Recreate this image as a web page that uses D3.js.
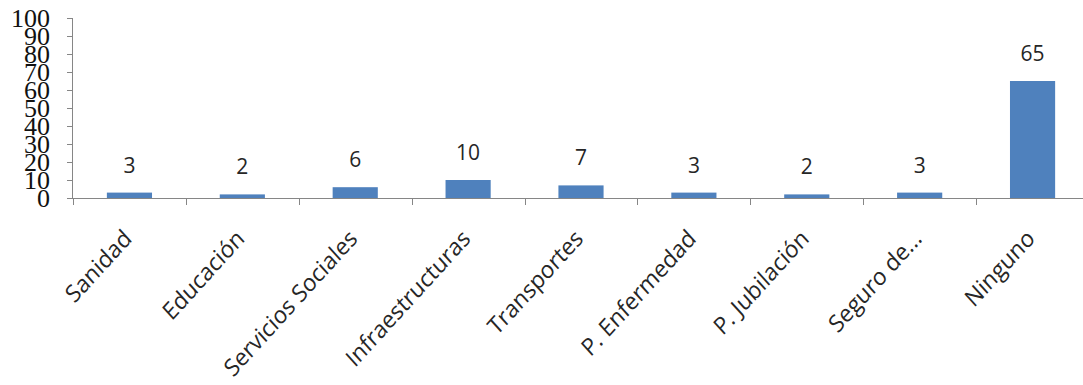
<!DOCTYPE html>
<html>
<head>
<meta charset="utf-8">
<script src="https://cdn.jsdelivr.net/npm/d3@7"></script>
<style>
  html, body { margin: 0; padding: 0; background: #fff; }
  svg { display: block; }
</style>
</head>
<body>
<svg id="chart" width="1083" height="385"></svg>
<script>
// Categories and percentage values
const categories = ["Sanidad", "Educación", "Servicios Sociales", "Infraestructuras",
  "Transportes", "P. Enfermedad", "P. Jubilación", "Seguro de...", "Ninguno"];
const values = [3, 2, 6, 10, 7, 3, 2, 3, 65];
const yTicks = [0, 10, 20, 30, 40, 50, 60, 70, 80, 90, 100];

const svg = d3.select("#chart");
const axisColor = "#868686";

const x = d3.scaleBand().domain(categories).range([73, 1089]).paddingInner(0).paddingOuter(0);
const y = d3.scaleLinear().domain([0, 100]).range([198, 18]);
const barW = x.bandwidth() * 0.4;

// Y axis (tick labels are large and crowd each other)
const yAxis = d3.axisLeft(y).tickValues(yTicks).tickSize(6).tickPadding(0);
const gy = svg.append("g").attr("transform", "translate(73,0)").call(yAxis);
gy.select(".domain").attr("stroke", axisColor).attr("d", `M-0.5,${y(100)}V${y(0)}`);
gy.selectAll(".tick line").attr("stroke", axisColor);
gy.selectAll(".tick text")
  .attr("x", -23)
  .attr("dy", "0.34em")
  .attr("fill", "#111")
  .style("font-family", "'Liberation Serif', 'DejaVu Serif', serif")
  .style("font-size", "26px");

// X axis: boundary ticks between categories
const gx = svg.append("g");
gx.append("line")
  .attr("x1", 67).attr("x2", 1083)
  .attr("y1", y(0) + 0.5).attr("y2", y(0) + 0.5)
  .attr("stroke", axisColor);
const boundaries = categories.map(c => x(c)).concat([x(categories[categories.length - 1]) + x.bandwidth()]);
gx.selectAll("line.b").data(boundaries).enter().append("line")
  .attr("class", "b")
  .attr("x1", d => Math.round(d) + 0.5).attr("x2", d => Math.round(d) + 0.5)
  .attr("y1", y(0)).attr("y2", y(0) + 7)
  .attr("stroke", axisColor);

// Bars
svg.append("g").selectAll("rect").data(values).enter().append("rect")
  .attr("x", (d, i) => x(categories[i]) + (x.bandwidth() - barW) / 2)
  .attr("width", barW)
  .attr("y", d => y(d))
  .attr("height", d => y(0) - y(d))
  .attr("fill", "#4F81BD");

// Value labels
svg.append("g").selectAll("text").data(values).enter().append("text")
  .attr("x", (d, i) => x(categories[i]) + x.bandwidth() / 2)
  .attr("y", d => y(d) - 20)
  .attr("text-anchor", "middle")
  .attr("fill", "#262626")
  .style("font-family", "'Open Sans', sans-serif")
  .style("font-size", "21px")
  .text(d => d);

// Category labels, rotated and slightly stretched vertically
svg.append("g").selectAll("text").data(categories).enter().append("text")
  .attr("transform", d => `translate(${x(d) + x.bandwidth() / 2 - 2},${234}) scale(1,1.1) rotate(-45)`)
  .attr("text-anchor", "end")
  .attr("dy", "0.35em")
  .attr("fill", "#262626")
  .style("font-family", "'Open Sans', sans-serif")
  .style("font-size", "22px")
  .text(d => d);
</script>
</body>
</html>
